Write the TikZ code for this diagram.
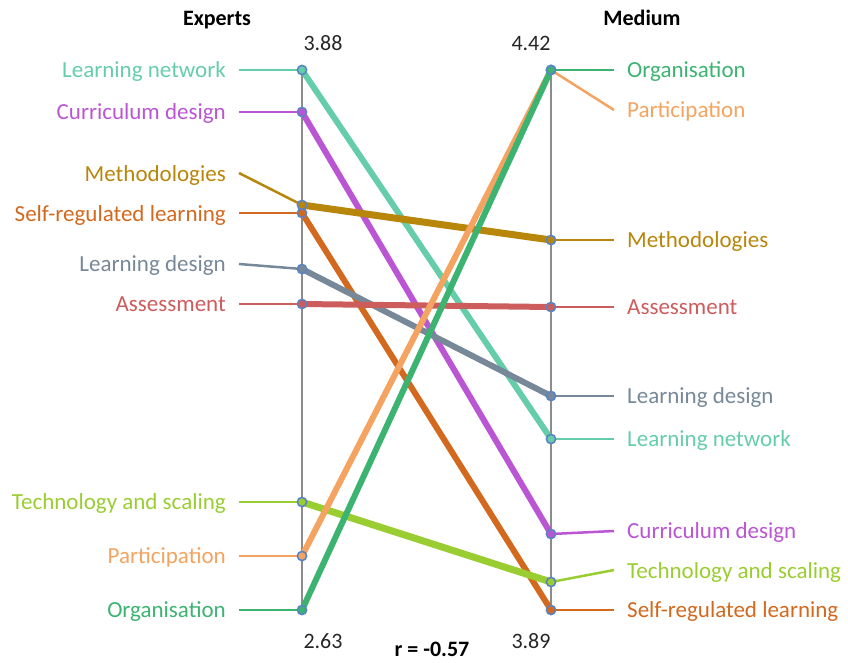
\documentclass[tikz,border=0pt]{standalone}
\usepackage{fontspec}
\setmainfont{Carlito}
\definecolor{cLN}{HTML}{66CDAA}
\definecolor{cCD}{HTML}{BA55D3}
\definecolor{cME}{HTML}{B8860B}
\definecolor{cSR}{HTML}{D2691E}
\definecolor{cLD}{HTML}{778899}
\definecolor{cAS}{HTML}{CD5C5C}
\definecolor{cTS}{HTML}{9ACD32}
\definecolor{cPA}{HTML}{F4A460}
\definecolor{cOR}{HTML}{3CB371}
\definecolor{axisgray}{HTML}{8C8C8C}
\definecolor{mkblue}{HTML}{5B84C4}
\begin{document}
\begin{tikzpicture}[x=1pt,y=-1pt,
  lab/.style={font=\fontsize{23}{27}\selectfont, inner sep=0pt},
  head/.style={font=\fontsize{22}{26}\selectfont\bfseries, inner sep=0pt, anchor=base},
  num/.style={font=\fontsize{22}{26}\selectfont, inner sep=0pt, anchor=base, text=black!85},
  axisline/.style={draw=axisgray, line width=2pt},
  main/.style={line width=6pt},
  leader/.style={line width=2.5pt},
  mk/.style={draw=mkblue, line width=1.6pt}]
\useasboundingbox (0,0) rectangle (848,662);

% axes
\coordinate (Etop) at (302,70);
\coordinate (Ebot) at (302,610);
\coordinate (Mtop) at (551,70);
\coordinate (Mbot) at (551,610);
\draw[axisline] (Etop) -- (Ebot);
\draw[axisline] (Mtop) -- (Mbot);

% points on Experts axis
\coordinate (E-LN) at (302,70);
\coordinate (E-CD) at (302,112);
\coordinate (E-ME) at (302,205);
\coordinate (E-SR) at (302,213);
\coordinate (E-LD) at (302,269);
\coordinate (E-AS) at (302,304);
\coordinate (E-TS) at (302,502);
\coordinate (E-PA) at (302,556);
\coordinate (E-OR) at (302,610);
% points on Medium axis
\coordinate (M-OR) at (551,70);
\coordinate (M-PA) at (551,70);
\coordinate (M-ME) at (551,240);
\coordinate (M-AS) at (551,307);
\coordinate (M-LD) at (551,396);
\coordinate (M-LN) at (551,439);
\coordinate (M-CD) at (551,534);
\coordinate (M-TS) at (551,582);
\coordinate (M-SR) at (551,610);

% left leader starts
\coordinate (LL-LN) at (239,70);
\coordinate (LL-CD) at (239,112);
\coordinate (LL-ME) at (239,173);
\coordinate (LL-SR) at (239,213);
\coordinate (LL-LD) at (239,264);
\coordinate (LL-AS) at (239,304);
\coordinate (LL-TS) at (239,502);
\coordinate (LL-PA) at (239,556);
\coordinate (LL-OR) at (239,610);
% right leader ends
\coordinate (RL-OR) at (614,70);
\coordinate (RL-PA) at (614,110);
\coordinate (RL-ME) at (614,240);
\coordinate (RL-AS) at (614,307);
\coordinate (RL-LD) at (614,396);
\coordinate (RL-LN) at (614,439);
\coordinate (RL-CD) at (614,531);
\coordinate (RL-TS) at (614,570);
\coordinate (RL-SR) at (614,610);

% left labels
\node[lab, anchor=base east, text=cLN] (tL-LN) at (226,77) {Learning network};
\node[lab, anchor=base east, text=cCD] (tL-CD) at (226,119) {Curriculum design};
\node[lab, anchor=base east, text=cME] (tL-ME) at (226,181) {Methodologies};
\node[lab, anchor=base east, text=cSR] (tL-SR) at (226,221) {Self-regulated learning};
\node[lab, anchor=base east, text=cLD] (tL-LD) at (226,271) {Learning design};
\node[lab, anchor=base east, text=cAS] (tL-AS) at (226,311) {Assessment};
\node[lab, anchor=base east, text=cTS] (tL-TS) at (226,509) {Technology and scaling};
\node[lab, anchor=base east, text=cPA] (tL-PA) at (226,563) {Participation};
\node[lab, anchor=base east, text=cOR] (tL-OR) at (226,617) {Organisation};
% right labels
\node[lab, anchor=base west, text=cOR] (tR-OR) at (627,77) {Organisation};
\node[lab, anchor=base west, text=cPA] (tR-PA) at (627,117) {Participation};
\node[lab, anchor=base west, text=cME] (tR-ME) at (627,247) {Methodologies};
\node[lab, anchor=base west, text=cAS] (tR-AS) at (627,314) {Assessment};
\node[lab, anchor=base west, text=cLD] (tR-LD) at (627,403) {Learning design};
\node[lab, anchor=base west, text=cLN] (tR-LN) at (627,446) {Learning network};
\node[lab, anchor=base west, text=cCD] (tR-CD) at (627,538) {Curriculum design};
\node[lab, anchor=base west, text=cTS] (tR-TS) at (627,578) {Technology and scaling};
\node[lab, anchor=base west, text=cSR] (tR-SR) at (627,617) {Self-regulated learning};

% leaders
\foreach \k/\c in {LN/cLN,CD/cCD,ME/cME,SR/cSR,LD/cLD,AS/cAS,TS/cTS,PA/cPA,OR/cOR}{
  \draw[leader, draw=\c] (LL-\k) -- (E-\k);
  \draw[leader, draw=\c] (M-\k) -- (RL-\k);
}

% main lines
\draw[main, cLN] (E-LN) -- (M-LN);
\draw[main, cCD] (E-CD) -- (M-CD);
\draw[main, cSR] (E-SR) -- (M-SR);
\draw[main, cLD] (E-LD) -- (M-LD);
\draw[main, cAS] (E-AS) -- (M-AS);
\draw[main, cTS, line width=7pt] (E-TS) -- (M-TS);
\draw[main, cME, line width=7pt] (E-ME) -- (M-ME);
\draw[main, cPA] (E-PA) -- (M-PA);
\draw[main, cOR] (E-OR) -- (M-OR);

% markers
\foreach \k/\c in {LN/cLN,CD/cCD,SR/cSR,ME/cME,LD/cLD,AS/cAS,TS/cTS,PA/cPA,OR/cOR}{
  \draw[mk, fill=\c] (E-\k) circle (4.6);
  \draw[mk, fill=\c] (M-\k) circle (4.6);
}

% headers and values
\node[head] (hE) at (217,25) {Experts};
\node[head] (hM) at (642,25) {Medium};
\node[num] (vE1) at (323,50) {3.88};
\node[num] (vM1) at (531,50) {4.42};
\node[num] (vE2) at (323,648) {2.63};
\node[num] (vM2) at (531,648) {3.89};
\node[head] (rr) at (432,656) {r = -0.57};
\end{tikzpicture}
\end{document}
